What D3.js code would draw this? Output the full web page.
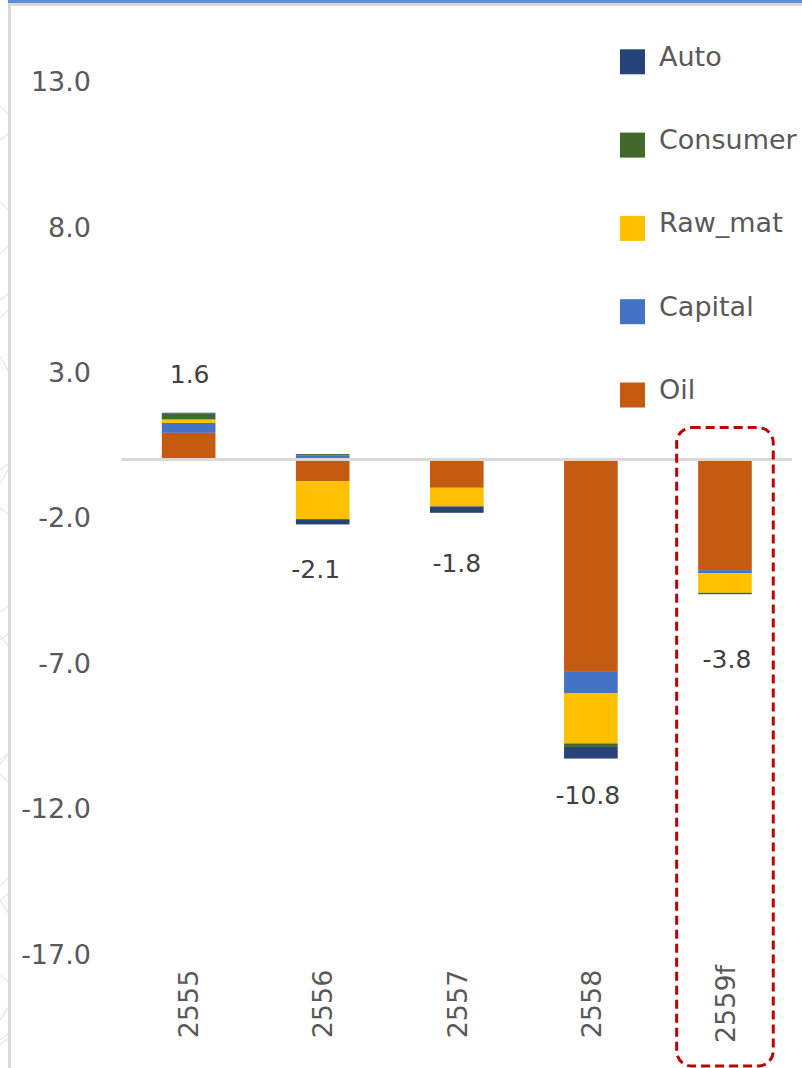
<!DOCTYPE html>
<html>
<head>
<meta charset="utf-8">
<script src="https://cdn.jsdelivr.net/npm/d3@7"></script>
<style>
  html, body { margin: 0; padding: 0; background: #fff; }
  svg { display: block; font-family: "DejaVu Sans", Verdana, sans-serif; }
</style>
</head>
<body>
<svg id="chart" width="802" height="1068"></svg>
<script>
// data
const categories = ["2555", "2556", "2557", "2558", "2559f"];
const oil      = [0.92, -0.74, -0.97, -7.30, -3.80];
const capital  = [0.34,  0.15,  0.00, -0.74, -0.11];
const rawMat   = [0.12, -1.31, -0.64, -1.72, -0.67];
const consumer = [0.20,  0.04,  0.00, -0.12, -0.05];
const auto     = [0.03, -0.18, -0.22, -0.40,  0.00];
const totalLabels = ["1.6", "-2.1", "-1.8", "-10.8", "-3.8"];
const yTicks = [13, 8, 3, -2, -7, -12, -17];

// stacking order from the zero line outwards
const keys = ["Oil", "Capital", "Raw_mat", "Consumer", "Auto"];
const legendOrder = ["Auto", "Consumer", "Raw_mat", "Capital", "Oil"];
const colors = {
  Auto: "#264478", Consumer: "#43682b", Raw_mat: "#ffc000",
  Capital: "#4472c4", Oil: "#c55a11"
};

const rows = categories.map((c, i) => ({
  cat: c, Oil: oil[i], Capital: capital[i], Raw_mat: rawMat[i],
  Consumer: consumer[i], Auto: auto[i]
}));

// label nudges (px) away from the bar end, as placed in the original
const labelShift = [[1, -39], [-7, 45], [0, 50], [-3, 36], [2, 65]];

const svg = d3.select("#chart");

// faint decoration in the left margin
svg.append("clipPath").attr("id", "leftclip")
  .append("rect").attr("x", 0).attr("y", 0).attr("width", 8).attr("height", 1068);
const deco = svg.append("g").attr("clip-path", "url(#leftclip)");
[[-60, 180, 95], [-40, 260, 70], [-90, 420, 110], [-30, 560, 60],
 [-70, 700, 95], [-50, 830, 75], [-80, 960, 100], [-20, 1010, 40]].forEach(c => {
  deco.append("circle").attr("cx", c[0]).attr("cy", c[1]).attr("r", c[2])
    .attr("fill", "none").attr("stroke", "#d3e1f0").attr("stroke-width", 1);
});
[140, 300, 470, 640, 760, 900, 1040].forEach(yy => {
  deco.append("line").attr("x1", 0).attr("x2", 8).attr("y1", yy).attr("y2", yy - 6)
    .attr("stroke", "#d3e1f0").attr("stroke-width", 1);
});

// frame: blue strip on top, grey borders
svg.append("rect").attr("x", 8).attr("y", 0).attr("width", 794).attr("height", 3).attr("fill", "#5b8fd6");
svg.append("rect").attr("x", 8).attr("y", 3).attr("width", 794).attr("height", 3).attr("fill", "#d9d9d9");
svg.append("rect").attr("x", 8).attr("y", 3).attr("width", 3).attr("height", 1065).attr("fill", "#d9d9d9");

const x = d3.scaleBand()
  .domain(categories)
  .range([121.6, 792])
  .paddingInner(0.6)
  .paddingOuter(0.3);

const y = d3.scaleLinear()
  .domain([-17, 13])
  .range([954, 81.5]);

// y tick labels (no axis line, no gridlines)
svg.append("g").selectAll("text")
  .data(yTicks)
  .join("text")
  .attr("x", 91)
  .attr("y", d => y(d))
  .attr("dy", "0.36em")
  .attr("text-anchor", "end")
  .attr("fill", "#595959")
  .style("font-size", "27px")
  .text(d => d.toFixed(1));

// stacked bars
const series = d3.stack().keys(keys).offset(d3.stackOffsetDiverging)(rows);

svg.append("g").selectAll("g")
  .data(series)
  .join("g")
  .attr("fill", d => colors[d.key])
  .selectAll("rect")
  .data(d => d)
  .join("rect")
  .attr("x", d => x(d.data.cat))
  .attr("width", x.bandwidth())
  .attr("y", d => y(Math.max(d[0], d[1])))
  .attr("height", d => Math.abs(y(d[0]) - y(d[1])));

// zero line
svg.append("line")
  .attr("x1", 121.6).attr("x2", 792)
  .attr("y1", y(0)).attr("y2", y(0))
  .attr("stroke", "#d9d9d9").attr("stroke-width", 3);

// total labels
const ends = rows.map(r => {
  let pos = 0, neg = 0;
  keys.forEach(k => { if (r[k] > 0) pos += r[k]; else neg += r[k]; });
  return Math.abs(neg) > pos ? neg : pos;
});

svg.append("g").selectAll("text")
  .data(categories)
  .join("text")
  .attr("x", (d, i) => x(d) + x.bandwidth() / 2 + labelShift[i][0])
  .attr("y", (d, i) => y(ends[i]) + labelShift[i][1])
  .attr("dy", "0.36em")
  .attr("text-anchor", "middle")
  .attr("fill", "#404040")
  .style("font-size", "25px")
  .text((d, i) => totalLabels[i]);

// category labels, rotated
svg.append("g").selectAll("text")
  .data(categories)
  .join("text")
  .attr("transform", d => `translate(${x(d) + x.bandwidth() / 2},1004) rotate(-90)`)
  .attr("dy", "0.36em")
  .attr("text-anchor", "middle")
  .attr("fill", "#595959")
  .style("font-size", "27px")
  .text(d => d);

// dashed highlight around the forecast year
const hx = x("2559f") + x.bandwidth() / 2;
svg.append("rect")
  .attr("x", hx - 48.3)
  .attr("y", y(1.1))
  .attr("width", 96.6)
  .attr("height", 1066 - y(1.1))
  .attr("rx", 15)
  .attr("fill", "none")
  .attr("stroke", "#c00000")
  .attr("stroke-width", 3)
  .attr("stroke-dasharray", "9,5");

// legend
const legend = svg.append("g").selectAll("g")
  .data(legendOrder)
  .join("g")
  .attr("transform", (d, i) => `translate(620,${61.8 + i * 83.3})`);

legend.append("rect")
  .attr("x", 0).attr("y", -12.5)
  .attr("width", 25).attr("height", 25)
  .attr("fill", d => colors[d]);

legend.append("text")
  .attr("x", 39)
  .attr("y", 4)
  .attr("fill", "#595959")
  .style("font-size", "27px")
  .text(d => d);
</script>
</body>
</html>
